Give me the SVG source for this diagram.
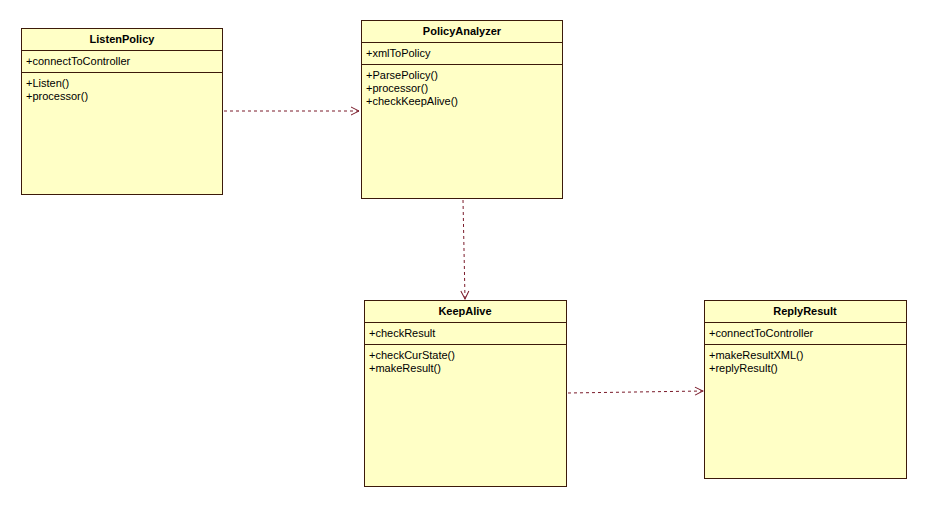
<svg xmlns="http://www.w3.org/2000/svg" width="928" height="508" viewBox="0 0 928 508">
<style>
.box{fill:#ffffc6;stroke:#3c1a0a;stroke-width:1}
.div{stroke:#3c1a0a;stroke-width:1}
.t{font-family:"Liberation Sans",Arial,sans-serif;font-size:11px;fill:#000}
.b{font-family:"Liberation Sans",Arial,sans-serif;font-size:11px;font-weight:bold;fill:#000;text-anchor:middle}
.c{stroke:#7a1a2a;stroke-width:1;stroke-dasharray:3,3;fill:none}
</style>
<defs>
<marker id="ah" markerWidth="10" markerHeight="10" refX="9" refY="5" orient="auto" markerUnits="userSpaceOnUse">
<path d="M1,1 L9,5 L1,9" fill="none" stroke="#7a1a2a" stroke-width="1"/>
</marker>
</defs>
<rect width="928" height="508" fill="#fff"/>
<g id="connectors">
<line class="c" x1="224" y1="111" x2="359" y2="111" marker-end="url(#ah)"/>
<line class="c" x1="463" y1="200" x2="465" y2="299" marker-end="url(#ah)"/>
<line class="c" x1="568" y1="393" x2="703" y2="391" marker-end="url(#ah)"/>
</g>
<g id="ListenPolicy">
<rect class="box" x="21.5" y="28.5" width="201" height="166"/>
<line class="div" x1="21.5" y1="50.5" x2="222.5" y2="50.5"/>
<line class="div" x1="21.5" y1="72.5" x2="222.5" y2="72.5"/>
<text class="b" x="122" y="43">ListenPolicy</text>
<text class="t" x="26" y="65">+connectToController</text>
<text class="t" x="26" y="87">+Listen()</text>
<text class="t" x="26" y="100">+processor()</text>
</g>
<g id="PolicyAnalyzer">
<rect class="box" x="361.5" y="20.5" width="201" height="178"/>
<line class="div" x1="361.5" y1="42.5" x2="562.5" y2="42.5"/>
<line class="div" x1="361.5" y1="64.5" x2="562.5" y2="64.5"/>
<text class="b" x="462" y="35">PolicyAnalyzer</text>
<text class="t" x="366" y="57">+xmlToPolicy</text>
<text class="t" x="366" y="79">+ParsePolicy()</text>
<text class="t" x="366" y="92">+processor()</text>
<text class="t" x="366" y="105">+checkKeepAlive()</text>
</g>
<g id="KeepAlive">
<rect class="box" x="364.5" y="300.5" width="202" height="186"/>
<line class="div" x1="364.5" y1="322.5" x2="566.5" y2="322.5"/>
<line class="div" x1="364.5" y1="344.5" x2="566.5" y2="344.5"/>
<text class="b" x="465" y="315">KeepAlive</text>
<text class="t" x="369" y="337">+checkResult</text>
<text class="t" x="369" y="359">+checkCurState()</text>
<text class="t" x="369" y="372">+makeResult()</text>
</g>
<g id="ReplyResult">
<rect class="box" x="704.5" y="300.5" width="202" height="178"/>
<line class="div" x1="704.5" y1="322.5" x2="906.5" y2="322.5"/>
<line class="div" x1="704.5" y1="344.5" x2="906.5" y2="344.5"/>
<text class="b" x="805" y="315">ReplyResult</text>
<text class="t" x="709" y="337">+connectToController</text>
<text class="t" x="709" y="359">+makeResultXML()</text>
<text class="t" x="709" y="372">+replyResult()</text>
</g>
</svg>
